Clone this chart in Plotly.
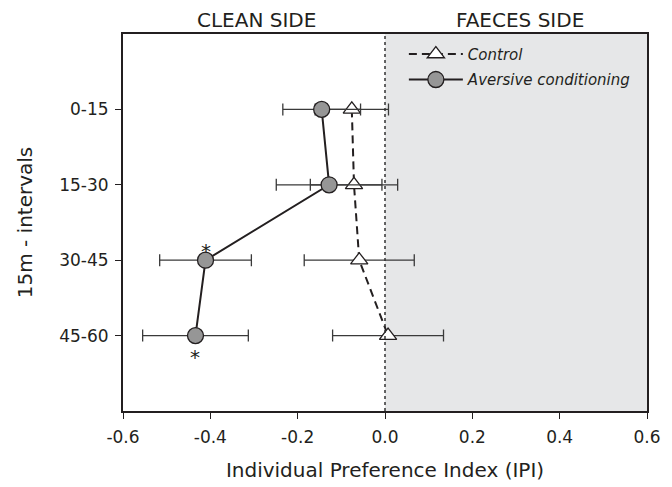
import plotly.graph_objects as go

intervals = ["0-15", "15-30", "30-45", "45-60"]
control_mean = [-0.076, -0.071, -0.059, 0.007]
control_err = [0.084, 0.100, 0.126, 0.127]
aversive_mean = [-0.145, -0.128, -0.411, -0.434]
aversive_err = [0.089, 0.121, 0.105, 0.121]
significant = [False, False, True, True]
star_side = [0, 0, 1, -1]  # 1 = above, -1 = below
x_ticks = [-0.6, -0.4, -0.2, 0.0, 0.2, 0.4, 0.6]

ypos = list(range(1, len(intervals) + 1))
FONT = "DejaVu Sans"
DARK = "#231f20"

fig = go.Figure()

# faeces side shading
fig.add_shape(type="rect", xref="x", yref="paper", x0=0, x1=0.6, y0=0, y1=1,
              fillcolor="#e6e7e8", line=dict(width=0), layer="below")
# dotted zero line
fig.add_shape(type="line", xref="x", yref="paper", x0=0, x1=0, y0=0, y1=1,
              line=dict(color="#333333", width=1.5, dash="dot"), layer="above")

fig.add_trace(go.Scatter(
    x=control_mean, y=ypos, name="<i>Control</i>", legendgroup="c",
    mode="lines+markers",
    line=dict(color=DARK, width=2, dash="8px,5px"),
    marker=dict(symbol="triangle-up", size=15, color="white",
                line=dict(color=DARK, width=1.3)),
    error_x=dict(type="data", array=control_err, visible=True,
                 color="#3a3a3a", thickness=1.3, width=6),
))
fig.add_trace(go.Scatter(
    x=aversive_mean, y=ypos, name="<i>Aversive conditioning</i>", legendgroup="a",
    mode="lines+markers",
    line=dict(color=DARK, width=2),
    marker=dict(symbol="circle", size=16, color="#969696",
                line=dict(color=DARK, width=1.3)),
    error_x=dict(type="data", array=aversive_err, visible=True,
                 color="#3a3a3a", thickness=1.3, width=6),
))

annotations = []
for i, sig in enumerate(significant):
    if sig:
        annotations.append(dict(
            x=aversive_mean[i], y=ypos[i], xref="x", yref="y", text="*",
            showarrow=False, font=dict(family=FONT, size=20, color=DARK),
            yshift=9 if star_side[i] > 0 else -21))
annotations.append(dict(x=-0.3, y=1, xref="x", yref="paper", text="CLEAN SIDE",
                        showarrow=False, yanchor="bottom", yshift=0, xshift=2,
                        font=dict(family=FONT, size=20, color=DARK)))
annotations.append(dict(x=0.3, y=1, xref="x", yref="paper", text="FAECES SIDE",
                        showarrow=False, yanchor="bottom", yshift=0, xshift=4,
                        font=dict(family=FONT, size=20, color=DARK)))

fig.update_layout(
    width=664, height=479,
    margin=dict(l=115, r=25, t=26, b=76),
    paper_bgcolor="white", plot_bgcolor="white",
    font=dict(family=FONT, color=DARK),
    showlegend=True,
    legend=dict(x=0.536, y=0.99, xanchor="left", yanchor="top",
                bgcolor="rgba(0,0,0,0)", font=dict(family=FONT, size=15, color=DARK),
                tracegroupgap=3, itemwidth=54),
    annotations=annotations,
    xaxis=dict(range=[-0.6, 0.6], tickvals=x_ticks,
               ticktext=[f"{v:.1f}" for v in x_ticks],
               ticks="outside", ticklen=6, tickwidth=1.3, tickcolor=DARK,
               showline=True, linecolor=DARK, linewidth=2, mirror=True,
               showgrid=False, zeroline=False, ticklabelstandoff=4,
               automargin=False,
               tickfont=dict(family=FONT, size=17, color=DARK),
               title=dict(text="Individual Preference Index (IPI)",
                          font=dict(family=FONT, size=20, color=DARK), standoff=17)),
    yaxis=dict(range=[5, 0], tickvals=ypos, ticktext=intervals,
               ticks="outside", ticklen=6, tickwidth=1.3, tickcolor=DARK,
               showline=True, linecolor=DARK, linewidth=2, mirror=True,
               showgrid=False, zeroline=False, ticklabelstandoff=3,
               automargin=False,
               tickfont=dict(family=FONT, size=17, color=DARK),
               title=dict(text="15m - intervals",
                          font=dict(family=FONT, size=20, color=DARK), standoff=21)),
)

fig.write_html("out.html")
